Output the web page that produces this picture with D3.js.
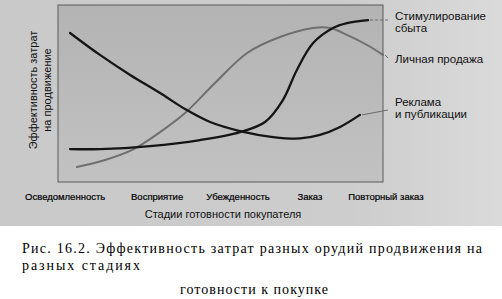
<!DOCTYPE html>
<html>
<head>
<meta charset="utf-8">
<script src="https://cdn.jsdelivr.net/npm/d3@7"></script>
<style>
  body { margin: 0; background: #fff; }
  svg { display: block; }
</style>
</head>
<body>
<svg id="chart" width="502" height="299"></svg>
<script>
// stages of buyer readiness (x positions in a 0..100 stage scale)
const stages = ['Осведомленность', 'Восприятие', 'Убежденность', 'Заказ', 'Повторный заказ'];
const stagePos = [2.2, 30.5, 55.4, 77.5, 100.9];

// cost-effectiveness curves, [x, y] in 0..100 units
const promoX = [3.7, 12.9, 28.3, 43.7, 56, 63.7, 69.2, 73.5, 78.5, 84.6, 88.9, 95.4];
const promoY = [18.6, 18.6, 20.3, 23.7, 28.2, 33.9, 46.3, 63.3, 78.5, 87, 89.8, 91.5];

const adsX = [3.7, 12.9, 22.2, 31.4, 39.1, 46.8, 56, 66.2, 74.5, 80.6, 86.8, 92.9];
const adsY = [84.2, 71.8, 60.5, 50.3, 41.2, 33.9, 28.8, 25.4, 24.6, 26.6, 31.1, 37.9];

const sellX = [5.8, 14.5, 22.8, 31.4, 39.1, 48.3, 58.2, 68.3, 78.5, 83.7, 88.9, 95.1, 100];
const sellY = [8.5, 12.4, 18.1, 28.2, 39, 55.9, 72.9, 81.9, 87, 87, 83.1, 77.4, 71.8];

const yTitle = ['Эффективность затрат', 'на продвижение'];
const xTitle = 'Стадии готовности покупателя';
const caption = [
  'Рис. 16.2. Эффективность затрат разных орудий продвижения на',
  'разных стадиях',
  'готовности к покупке'
];

const svg = d3.select('#chart');
const box = { left: 58, top: 5, right: 383, bottom: 182 };

const x = d3.scaleLinear().domain([0, 100]).range([box.left, box.right]);
const y = d3.scaleLinear().domain([0, 100]).range([box.bottom, box.top]);

// scanned page background
const defs = svg.append('defs');
const pg = defs.append('linearGradient').attr('id', 'page').attr('x1', 0).attr('x2', 1).attr('y1', 0).attr('y2', 0);
pg.append('stop').attr('offset', '0%').attr('stop-color', '#c9c9c9');
pg.append('stop').attr('offset', '70%').attr('stop-color', '#cdcdcd');
pg.append('stop').attr('offset', '100%').attr('stop-color', '#dadada');
const bg = defs.append('linearGradient').attr('id', 'plot').attr('x1', 0).attr('x2', 0).attr('y1', 0).attr('y2', 1);
bg.append('stop').attr('offset', '0%').attr('stop-color', '#b3b3b3');
bg.append('stop').attr('offset', '100%').attr('stop-color', '#c2c2c2');

svg.append('rect').attr('x', 0).attr('y', 0).attr('width', 502).attr('height', 226).attr('fill', 'url(#page)');
svg.append('rect')
  .attr('x', box.left).attr('y', box.top)
  .attr('width', box.right - box.left).attr('height', box.bottom - box.top)
  .attr('fill', 'url(#plot)')
  .attr('stroke', '#5a5a5a').attr('stroke-width', 1);

const line = d3.line().x(d => x(d[0])).y(d => y(d[1])).curve(d3.curveCatmullRom);
const zip = (a, b) => a.map((v, i) => [v, b[i]]);

const series = [
  { pts: zip(sellX, sellY), color: '#6f6f6f', width: 2 },
  { pts: zip(adsX, adsY), color: '#151515', width: 2.3 },
  { pts: zip(promoX, promoY), color: '#151515', width: 2.3 }
];

svg.append('g').selectAll('path').data(series).enter().append('path')
  .attr('d', d => line(d.pts))
  .attr('fill', 'none')
  .attr('stroke', d => d.color)
  .attr('stroke-width', d => d.width)
  .attr('stroke-linecap', 'round');

// labels with leader lines
const font = 'Liberation Sans, Arial, sans-serif';
const labels = [
  { lines: ['Стимулирование', 'сбыта'], tx: 395, ty: 20, end: promoX.length - 1, xs: promoX, ys: promoY, lx: 388, ly: 20, dash: '3,2' },
  { lines: ['Личная продажа'], tx: 395, ty: 63, end: sellX.length - 1, xs: sellX, ys: sellY, lx: 388, ly: 58, dash: null },
  { lines: ['Реклама', 'и публикации'], tx: 395, ty: 106, end: adsX.length - 1, xs: adsX, ys: adsY, lx: 388, ly: 110, dash: null }
];

labels.forEach(l => {
  svg.append('line')
    .attr('x1', x(l.xs[l.end]) + 2).attr('y1', y(l.ys[l.end]))
    .attr('x2', l.lx).attr('y2', l.ly)
    .attr('stroke', '#6a6a6a').attr('stroke-width', 1)
    .attr('stroke-dasharray', l.dash);
  const t = svg.append('text').attr('x', l.tx).attr('y', l.ty)
    .attr('font-family', font).attr('font-size', 11.5).attr('fill', '#111');
  l.lines.forEach((s, i) => t.append('tspan').attr('x', l.tx).attr('dy', i ? 12 : 0).text(s));
});

// stage labels
svg.append('g').selectAll('text').data(stages).enter().append('text')
  .attr('x', (d, i) => x(stagePos[i]))
  .attr('y', 200)
  .attr('text-anchor', 'middle')
  .attr('font-family', font).attr('font-size', 9.5).attr('fill', '#000')
  .attr('stroke', '#000').attr('stroke-width', 0.2)
  .text(d => d);

svg.append('text')
  .attr('x', 223).attr('y', 218)
  .attr('text-anchor', 'middle')
  .attr('font-family', font).attr('font-size', 11).attr('fill', '#111')
  .text(xTitle);

// y title, two rotated lines
yTitle.forEach((s, i) => {
  svg.append('text')
    .attr('transform', `translate(${37 + i * 14},90) rotate(-90)`)
    .attr('text-anchor', 'middle')
    .attr('font-family', font).attr('font-size', 11).attr('fill', '#111')
    .text(s);
});

// caption
const serif = 'Liberation Serif, Times New Roman, serif';
svg.append('text').attr('x', 22).attr('y', 253)
  .attr('font-family', serif).attr('font-size', 14).attr('fill', '#000')
  .attr('textLength', 460).attr('lengthAdjust', 'spacing')
  .text(caption[0]);
svg.append('text').attr('x', 22).attr('y', 270)
  .attr('font-family', serif).attr('font-size', 14).attr('fill', '#000')
  .attr('textLength', 118).attr('lengthAdjust', 'spacing')
  .text(caption[1]);
svg.append('text').attr('x', 180).attr('y', 294)
  .attr('font-family', serif).attr('font-size', 14).attr('fill', '#000')
  .attr('textLength', 148).attr('lengthAdjust', 'spacing')
  .text(caption[2]);
</script>
</body>
</html>
